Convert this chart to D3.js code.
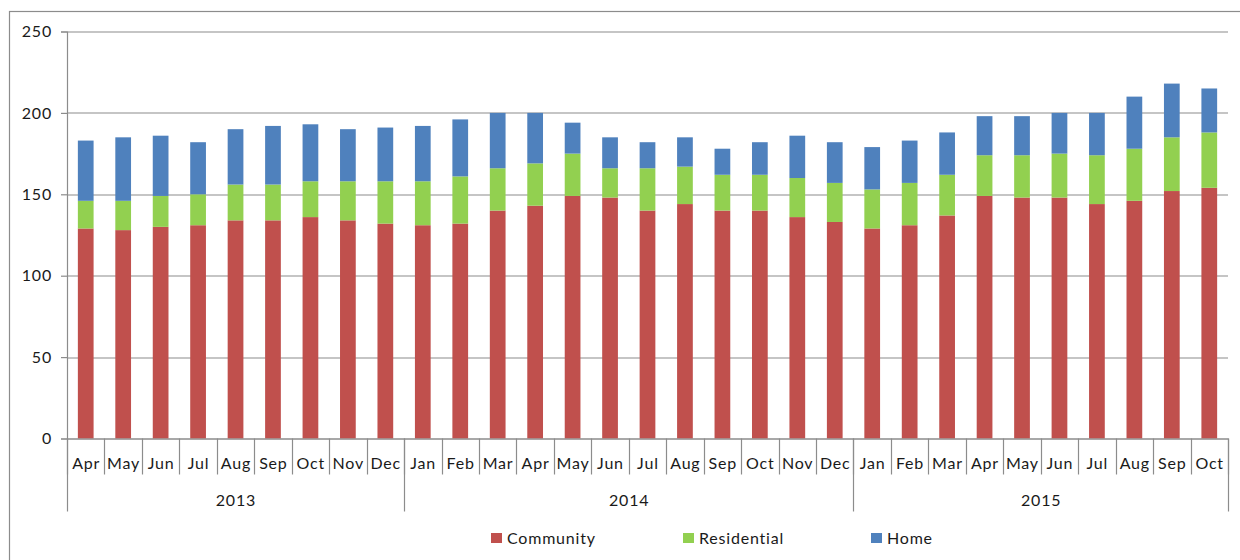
<!DOCTYPE html>
<html>
<head>
<meta charset="utf-8">
<script src="https://cdn.jsdelivr.net/npm/d3@7"></script>
<style>
  body { margin: 0; background: #fff; }
  svg text { font-family: Lato, "Open Sans", sans-serif; fill: #1a1a1a; letter-spacing: 0.8px; }
</style>
</head>
<body>
<div id="chart"></div>
<script>
// Month labels, one per bar
const months = ["Apr", "May", "Jun", "Jul", "Aug", "Sep", "Oct", "Nov", "Dec",
    "Jan", "Feb", "Mar", "Apr", "May", "Jun", "Jul", "Aug", "Sep", "Oct", "Nov", "Dec",
    "Jan", "Feb", "Mar", "Apr", "May", "Jun", "Jul", "Aug", "Sep", "Oct"];
// Year groups: label and how many months it covers
const years = [{ label: "2013", count: 9 }, { label: "2014", count: 12 }, { label: "2015", count: 10 }];

const community = [129, 128, 130, 131, 134, 134, 136, 134, 132,
    131, 132, 140, 143, 149, 148, 140, 144, 140, 140, 136, 133,
    129, 131, 137, 149, 148, 148, 144, 146, 152, 154];
const residential = [17, 18, 19, 19, 22, 22, 22, 24, 26,
    27, 29, 26, 26, 26, 18, 26, 23, 22, 22, 24, 24,
    24, 26, 25, 25, 26, 27, 30, 32, 33, 34];
const home = [37, 39, 37, 32, 34, 36, 35, 32, 33,
    34, 35, 34, 31, 19, 19, 16, 18, 16, 20, 26, 25,
    26, 26, 26, 24, 24, 25, 26, 32, 33, 27];

const seriesNames = ["Community", "Residential", "Home"];
const colors = ["#C0504D", "#92D050", "#4F81BD"];
const yTicks = [0, 50, 100, 150, 200, 250];

const width = 1240, height = 560;
const margin = { top: 31.5, right: 12, bottom: 121.5, left: 67 };
const innerW = width - margin.left - margin.right;
const innerH = height - margin.top - margin.bottom;

const svg = d3.select("#chart").append("svg")
    .attr("width", width)
    .attr("height", height);

// chart frame (only top and left edges show in the picture)
svg.append("rect")
    .attr("x", 9.5).attr("y", 11.5)
    .attr("width", 1240).attr("height", 560)
    .attr("fill", "none")
    .attr("stroke", "#8c8c8c")
    .attr("stroke-width", 1.2);

const g = svg.append("g")
    .attr("transform", "translate(" + margin.left + "," + margin.top + ")");

const rows = months.map((m, i) => ({
    idx: i,
    Community: community[i],
    Residential: residential[i],
    Home: home[i]
}));

const x = d3.scaleBand()
    .domain(d3.range(months.length))
    .range([0, innerW])
    .paddingInner(0.58)
    .paddingOuter(0.29);

const y = d3.scaleLinear()
    .domain([0, 250])
    .range([innerH, 0]);

// gridlines
g.selectAll(".grid")
    .data(yTicks)
    .enter()
    .append("line")
    .attr("x1", 0)
    .attr("x2", innerW)
    .attr("y1", d => Math.round(y(d)) + 0.5)
    .attr("y2", d => Math.round(y(d)) + 0.5)
    .attr("stroke", "#8c8c8c")
    .attr("stroke-width", 1.2);

// y axis
const yAxis = g.append("g")
    .call(d3.axisLeft(y).tickValues(yTicks).tickSize(6).tickPadding(9));
yAxis.select(".domain").attr("stroke", "#8c8c8c").attr("stroke-width", 1.2);
yAxis.selectAll(".tick line").attr("stroke", "#8c8c8c").attr("stroke-width", 1.2);
yAxis.selectAll(".tick text")
    .style("font-size", "16px")
    .style("font-family", "Lato, 'Open Sans', sans-serif")
    .attr("fill", "#1a1a1a");

// stacked bars
const stack = d3.stack().keys(seriesNames);
const layers = stack(rows);

g.selectAll(".layer")
    .data(layers)
    .enter()
    .append("g")
    .attr("fill", (d, i) => colors[i])
    .selectAll("rect")
    .data(d => d)
    .enter()
    .append("rect")
    .attr("x", d => x(d.data.idx))
    .attr("width", x.bandwidth())
    .attr("y", d => y(d[1]))
    .attr("height", d => y(d[0]) - y(d[1]));

// category axis: month labels and separators
const step = x.step();
const axisG = g.append("g").attr("transform", "translate(0," + innerH + ")");

axisG.append("line")
    .attr("x1", 0).attr("x2", innerW)
    .attr("y1", 0.5).attr("y2", 0.5)
    .attr("stroke", "#8c8c8c")
    .attr("stroke-width", 1.2);

axisG.selectAll(".mtick")
    .data(d3.range(months.length + 1))
    .enter()
    .append("line")
    .attr("x1", i => Math.round(i * step) + 0.5)
    .attr("x2", i => Math.round(i * step) + 0.5)
    .attr("y1", 0)
    .attr("y2", 36)
    .attr("stroke", "#8c8c8c")
    .attr("stroke-width", 1.2);

axisG.selectAll(".mlabel")
    .data(months)
    .enter()
    .append("text")
    .attr("x", (d, i) => x(i) + x.bandwidth() / 2 + 0.4)
    .attr("y", 30.5)
    .attr("text-anchor", "middle")
    .style("font-size", "16px")
    .text(d => d);

// year group separators and labels
let start = 0;
const yearPos = years.map(yr => {
    const p = { label: yr.label, from: start, to: start + yr.count };
    start += yr.count;
    return p;
});

const bounds = [0].concat(yearPos.map(p => p.to));
axisG.selectAll(".ytick")
    .data(bounds)
    .enter()
    .append("line")
    .attr("x1", i => Math.round(i * step) + 0.5)
    .attr("x2", i => Math.round(i * step) + 0.5)
    .attr("y1", 0)
    .attr("y2", 73)
    .attr("stroke", "#8c8c8c")
    .attr("stroke-width", 1.2);

axisG.selectAll(".ylabel")
    .data(yearPos)
    .enter()
    .append("text")
    .attr("x", d => (d.from + d.to) / 2 * step + 0.4)
    .attr("y", 67)
    .attr("text-anchor", "middle")
    .style("font-size", "16px")
    .text(d => d.label);

// legend
const legendX = [491, 683, 871];
const legend = svg.append("g");
seriesNames.forEach((name, i) => {
    legend.append("rect")
        .attr("x", legendX[i])
        .attr("y", 533)
        .attr("width", 11)
        .attr("height", 10)
        .attr("fill", colors[i]);
    legend.append("text")
        .attr("x", legendX[i] + 16)
        .attr("y", 544)
        .style("font-size", "16px")
        .text(name);
});
</script>
</body>
</html>
